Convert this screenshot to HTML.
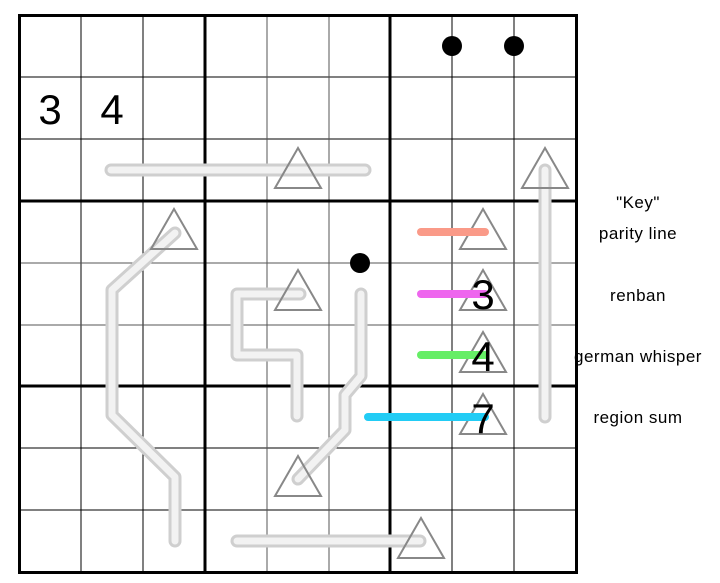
<!DOCTYPE html><html><head><style>body{margin:0;background:#fff}svg{display:block}text{font-family:"Liberation Sans",sans-serif}</style></head><body>
<svg width="720" height="583" viewBox="0 0 720 583">
<g stroke="#000" stroke-width="1">
<line x1="81" y1="15" x2="81" y2="572"/><line x1="143" y1="15" x2="143" y2="572"/><line x1="452" y1="15" x2="452" y2="572"/><line x1="514" y1="15" x2="514" y2="572"/>
<line x1="19" y1="77" x2="576" y2="77"/><line x1="19" y1="139" x2="576" y2="139"/><line x1="19" y1="448" x2="576" y2="448"/><line x1="19" y1="510" x2="576" y2="510"/>
</g>
<g stroke="#555" stroke-width="1">
<line x1="267" y1="15" x2="267" y2="572"/><line x1="329" y1="15" x2="329" y2="572"/>
<line x1="19" y1="263" x2="576" y2="263"/><line x1="19" y1="325" x2="576" y2="325"/>
</g>
<g stroke="#000" stroke-width="3" fill="none">
<rect x="19.5" y="15.5" width="557" height="557"/>
<line x1="205" y1="15" x2="205" y2="572"/><line x1="390" y1="15" x2="390" y2="572"/>
<line x1="19" y1="201" x2="576" y2="201"/><line x1="19" y1="386" x2="576" y2="386"/>
</g>
<g fill="none" stroke-linecap="round" stroke-linejoin="round">
<g stroke="#cfcfcf" stroke-width="13">
<path d="M111 170H365"/><path d="M175 233L112 290V415L175 477V541"/><path d="M300 294H237V355H297V416"/><path d="M361 294V376L345 395V430L298 479"/><path d="M237 541H420"/><path d="M545 170V417"/>
</g>
<g stroke="#f2f2f2" stroke-width="7">
<path d="M111 170H365"/><path d="M175 233L112 290V415L175 477V541"/><path d="M300 294H237V355H297V416"/><path d="M361 294V376L345 395V430L298 479"/><path d="M237 541H420"/><path d="M545 170V417"/>
</g>
</g>
<g fill="none" stroke="#888" stroke-width="2">
<path d="M298 148L275 188H321Z"/><path d="M174 209L151 249H197Z"/><path d="M298 270L275 310H321Z"/><path d="M298 456L275 496H321Z"/><path d="M421 518L398 558H444Z"/><path d="M545 148L522 188H568Z"/>
<path d="M483 209L460 249H506Z"/><path d="M483 270L460 310H506Z"/><path d="M483 332L460 372H506Z"/><path d="M483 394L460 434H506Z"/>
</g>
<g stroke-width="8" stroke-linecap="round">
<line x1="421" y1="232" x2="485" y2="232" stroke="#fa9a88"/>
<line x1="421" y1="294" x2="485" y2="294" stroke="#ee66ee"/>
<line x1="421" y1="355" x2="485" y2="355" stroke="#66ee66"/>
<line x1="368" y1="417" x2="485" y2="417" stroke="#22ccf5"/>
</g>
<circle cx="452" cy="46" r="10"/><circle cx="514" cy="46" r="10"/><circle cx="360" cy="263" r="10"/>
<g font-size="42" text-anchor="middle">
<text x="50" y="124">3</text><text x="112" y="124">4</text>
<text x="483" y="309">3</text><text x="483" y="371">4</text><text x="483" y="433">7</text>
</g>
<g font-size="17" text-anchor="middle" letter-spacing="0.5">
<text x="638" y="208">"Key"</text><text x="638" y="239">parity line</text><text x="638" y="301">renban</text><text x="638" y="362">german whisper</text><text x="638" y="423">region sum</text>
</g>
</svg></body></html>
